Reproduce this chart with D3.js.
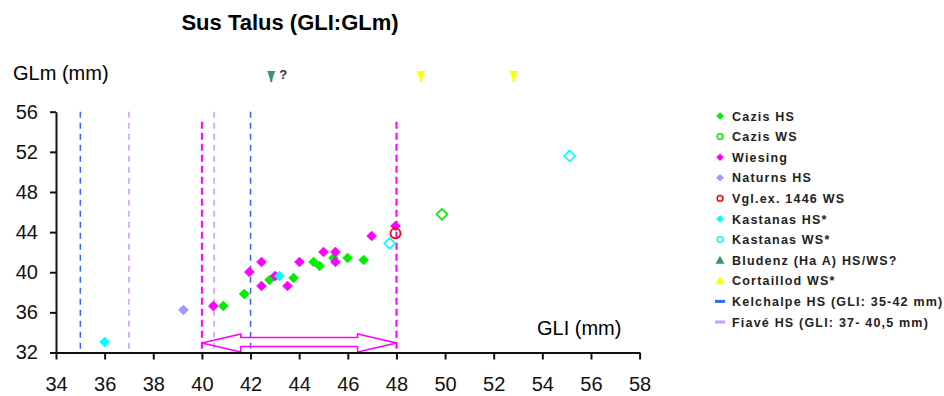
<!DOCTYPE html>
<html>
<head>
<meta charset="utf-8">
<script src="https://cdn.jsdelivr.net/npm/d3@7/dist/d3.min.js"></script>
<style>
  html, body { margin: 0; padding: 0; background: #fff; }
  svg { display: block; font-family: Arial, 'Liberation Sans', sans-serif; }
</style>
</head>
<body>
<div id="chart"></div>
<script>
// data (GLI, GLm in mm)
const cazisHS = [[40.88, 36.63], [41.74, 37.83], [42.78, 39.23], [43.77, 39.43], [44.59, 41.02],
  [44.84, 40.62], [45.41, 41.42], [45.99, 41.42], [46.65, 41.22]]
const cazisWS = [[49.87, 45.77]]
const wiesing = [[40.47, 36.63], [41.95, 40.02], [42.45, 41.02], [42.45, 38.63], [43.01, 39.62],
  [43.52, 38.63], [44.01, 41.02], [45.0, 42.02], [45.49, 42.02], [45.49, 41.02], [46.98, 43.61], [47.96, 44.61]]
const naturnsHS = [[39.24, 36.24]]
const vglWS = [[47.96, 43.88]]
const kastanasHS = [[36.0, 33.05], [43.19, 39.62]]
const kastanasWS = [[47.72, 42.88], [55.12, 51.59]]
const bludenz = [[42.85, 59.46]]
const cortaillod = [[49.01, 59.46], [52.82, 59.46]]

const kelchalpeRange = [35, 42]
const fiaveRange = [37, 40.5]
const wiesingRange = [40, 48]

const xTicks = [34, 36, 38, 40, 42, 44, 46, 48, 50, 52, 54, 56, 58]
const yTicks = [32, 36, 40, 44, 48, 52, 56]

const legendLabels = ['Cazis HS', 'Cazis WS', 'Wiesing', 'Naturns HS', 'Vgl.ex. 1446 WS', 'Kastanas HS*',
  'Kastanas WS*', 'Bludenz (Ha A) HS/WS?', 'Cortaillod WS*', 'Kelchalpe HS (GLI: 35-42 mm)', 'Fiavé HS (GLI: 37- 40,5 mm)']

const width = 944
const height = 396

const svg = d3.select('#chart').append('svg')
  .attr('width', width)
  .attr('height', height)

const x = d3.scaleLinear().domain([34, 58]).range([56, 639.6])
const y = d3.scaleLinear().domain([32, 56]).range([352.5, 111.7])

// marker shapes
const diamond = r => `M0,${-r}L${r},0L0,${r}L${-r},0Z`
const pin = s => `M${-4 * s},${-6 * s}L${4 * s},${-6 * s}L${1.5 * s},${1 * s}L${1 * s},${5 * s}L${-1 * s},${5 * s}L${-1.5 * s},${1 * s}Z`

// title + axis titles
svg.append('text')
  .attr('x', 290).attr('y', 30)
  .attr('text-anchor', 'middle')
  .attr('font-size', 22).attr('font-weight', 'bold')
  .text('Sus Talus (GLI:GLm)')

svg.append('text')
  .attr('x', 13).attr('y', 80)
  .attr('font-size', 20)
  .text('GLm (mm)')

svg.append('text')
  .attr('x', 537).attr('y', 335)
  .attr('font-size', 20)
  .text('GLI (mm)')

// reference lines
const vLines = [
  { v: kelchalpeRange[0], top: 56, color: '#3366ff', w: 1.5, dash: '6,5' },
  { v: kelchalpeRange[1], top: 56, color: '#3366ff', w: 1.5, dash: '6,5' },
  { v: fiaveRange[0], top: 56, color: '#cc99ff', w: 1.5, dash: '6,5' },
  { v: fiaveRange[1], top: 56, color: '#cc99ff', w: 1.5, dash: '6,5' },
  { v: wiesingRange[0], top: 55, color: '#ff00ff', w: 2, dash: '7,4' },
  { v: wiesingRange[1], top: 55, color: '#ff00ff', w: 2, dash: '7,4' },
]
svg.append('g').selectAll('line')
  .data(vLines)
  .join('line')
  .attr('x1', d => x(d.v)).attr('x2', d => x(d.v))
  .attr('y1', d => y(d.top)).attr('y2', y(32))
  .attr('stroke', d => d.color)
  .attr('stroke-width', d => d.w)
  .attr('stroke-dasharray', d => d.dash)

// double arrow over the Wiesing range
const a0 = wiesingRange[0], a1 = wiesingRange[1]
const arrowPts = [
  [a0, 32.95], [a0 + 1.6, 33.85], [a0 + 1.6, 33.5], [a1 - 1.6, 33.5], [a1 - 1.6, 33.85],
  [a1, 32.95], [a1 - 1.6, 32.05], [a1 - 1.6, 32.6], [a0 + 1.6, 32.6], [a0 + 1.6, 32.05],
]
svg.append('path')
  .attr('d', d3.line().x(d => x(d[0])).y(d => y(d[1])).curve(d3.curveLinearClosed)(arrowPts))
  .attr('fill', 'none')
  .attr('stroke', '#ff00ff')
  .attr('stroke-width', 1.5)

// axes
const xAxis = svg.append('g')
  .attr('transform', `translate(0,${y(32)})`)
  .call(d3.axisBottom(x).tickValues(xTicks).tickSize(7).tickPadding(17).tickSizeOuter(0))
const yAxis = svg.append('g')
  .attr('transform', `translate(${x(34)},0)`)
  .call(d3.axisLeft(y).tickValues(yTicks).tickSize(6).tickPadding(12).tickSizeOuter(0))
;[xAxis, yAxis].forEach(g => {
  g.select('.domain').attr('stroke', '#111').attr('stroke-width', 2)
  g.selectAll('.tick line').attr('stroke', '#111').attr('stroke-width', 2)
  g.selectAll('.tick text').attr('font-size', 20).attr('fill', '#111')
    .attr('font-family', 'Arial, Liberation Sans, sans-serif')
})

// series
const series = [
  { data: naturnsHS, color: '#9999ff', kind: 'fill' },
  { data: cazisHS, color: '#00ee00', kind: 'fill' },
  { data: wiesing, color: '#ff00ff', kind: 'fill' },
  { data: kastanasHS, color: '#00ffff', kind: 'fill' },
  { data: cazisWS, color: '#00ee00', kind: 'open' },
  { data: kastanasWS, color: '#00ffff', kind: 'open' },
  { data: vglWS, color: '#ff0000', kind: 'circle' },
  { data: bludenz, color: '#339966', kind: 'pin' },
  { data: cortaillod, color: '#ffff00', kind: 'pin' },
]

series.forEach(s => {
  const g = svg.append('g')
  const sel = g.selectAll('path')
    .data(s.data)
    .join('path')
    .attr('transform', d => `translate(${x(d[0])},${y(d[1])})`)
  if (s.kind === 'fill') {
    sel.attr('d', diamond(4.8)).attr('fill', s.color)
      .attr('stroke', s.color).attr('stroke-width', 1).attr('stroke-linejoin', 'round')
  } else if (s.kind === 'open') {
    sel.attr('d', diamond(5.5)).attr('fill', 'none').attr('stroke', s.color).attr('stroke-width', 1.6)
  } else if (s.kind === 'circle') {
    sel.attr('d', d3.symbol(d3.symbolCircle, Math.PI * 25)()).attr('fill', 'none')
      .attr('stroke', s.color).attr('stroke-width', 1.8)
  } else {
    sel.attr('d', pin(1)).attr('fill', s.color)
  }
})

svg.append('text')
  .attr('x', x(bludenz[0][0]) + 8).attr('y', y(bludenz[0][1]) + 2)
  .attr('font-size', 13).attr('font-weight', 'bold').attr('fill', '#333')
  .text('?')

// legend
const legendKinds = [
  { color: '#00ee00', kind: 'fill' },
  { color: '#00ee00', kind: 'open' },
  { color: '#ff00ff', kind: 'fill' },
  { color: '#9999ff', kind: 'fill' },
  { color: '#ff0000', kind: 'open' },
  { color: '#00ffff', kind: 'fill' },
  { color: '#00ffff', kind: 'open' },
  { color: '#339966', kind: 'tri' },
  { color: '#ffff00', kind: 'tri' },
  { color: '#3366ff', kind: 'line' },
  { color: '#cc99ff', kind: 'line' },
]

const legend = svg.append('g').attr('transform', 'translate(720,116)')
const items = legend.selectAll('g')
  .data(legendLabels)
  .join('g')
  .attr('transform', (d, i) => `translate(0,${i * 20.6})`)

items.each(function (d, i) {
  const k = legendKinds[i]
  const g = d3.select(this)
  if (k.kind === 'fill') {
    g.append('path').attr('d', diamond(3.8)).attr('fill', k.color)
  } else if (k.kind === 'open') {
    g.append('circle').attr('r', 2.8).attr('fill', 'none').attr('stroke', k.color).attr('stroke-width', 1.5)
  } else if (k.kind === 'tri') {
    g.append('path').attr('d', 'M0,-4.5L4.5,3.5L-4.5,3.5Z').attr('fill', k.color)
  } else {
    g.append('rect').attr('x', -5).attr('y', -1.5).attr('width', 10).attr('height', 3).attr('fill', k.color)
  }
})

items.append('text')
  .attr('x', 12).attr('y', 4.5)
  .attr('font-size', 12.5)
  .attr('font-weight', 'bold')
  .attr('letter-spacing', 1.2)
  .attr('fill', '#222')
  .text(d => d)
</script>
</body>
</html>
